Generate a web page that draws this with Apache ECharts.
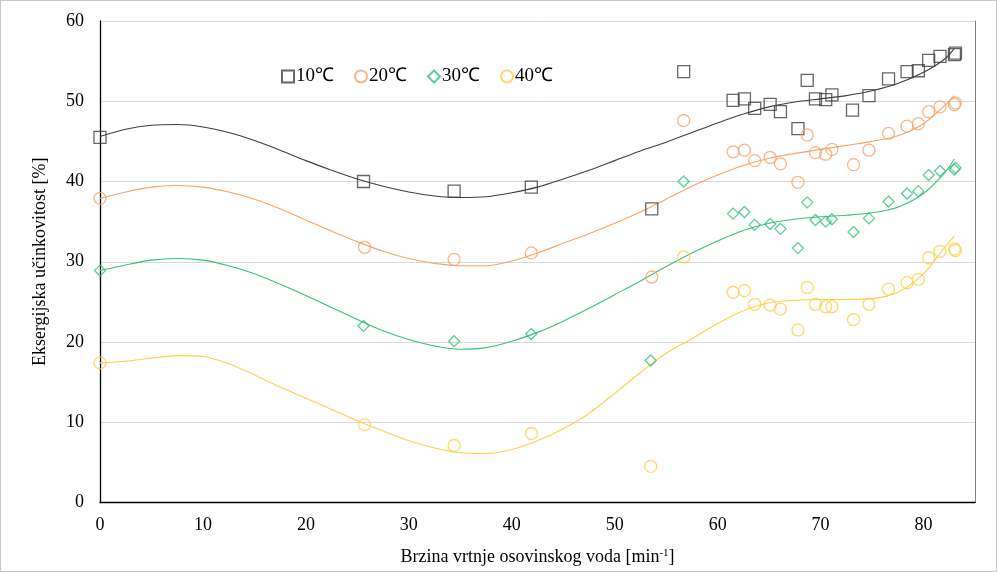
<!DOCTYPE html>
<html><head><meta charset="utf-8">
<script src="https://cdn.jsdelivr.net/npm/echarts@6/dist/echarts.min.js"></script>
<style>html,body{margin:0;padding:0;background:#fff}#c{width:997px;height:572px;box-sizing:border-box;border:1px solid #C8C8C8}</style>
</head><body><div id="c"></div>
<script>
// measured points [speed, efficiency]
const pts10 = [[0,45.5],[25.6,40.0],[34.4,38.8],[41.9,39.3],[53.6,36.6],[56.7,53.7],[61.5,50.1],[62.6,50.3],[63.6,49.1],[65.1,49.6],[66.1,48.7],[67.8,46.6],[68.7,52.6],[69.5,50.3],[70.5,50.2],[71.1,50.8],[73.1,48.9],[74.7,50.7],[76.6,52.8],[78.4,53.7],[79.5,53.8],[80.5,55.1],[81.6,55.6],[83.0,55.8],[83.1,56.0]];
const pts20 = [[0,37.9],[25.7,31.8],[34.4,30.3],[41.9,31.1],[53.6,28.1],[56.7,47.6],[61.5,43.7],[62.6,43.9],[63.6,42.6],[65.1,43.0],[66.1,42.2],[67.8,39.9],[68.7,45.8],[69.5,43.6],[70.5,43.4],[71.1,44.0],[73.2,42.1],[74.7,43.9],[76.6,46.0],[78.4,46.9],[79.5,47.2],[80.5,48.7],[81.6,49.3],[83.0,49.6],[83.1,49.8]];
const pts30 = [[0,28.9],[25.6,22.0],[34.4,20.1],[41.9,21.0],[53.5,17.7],[56.7,40.0],[61.5,36.0],[62.6,36.2],[63.6,34.6],[65.1,34.7],[66.1,34.1],[67.8,31.7],[68.7,37.4],[69.5,35.2],[70.5,35.0],[71.1,35.3],[73.2,33.7],[74.7,35.4],[76.6,37.5],[78.4,38.5],[79.5,38.8],[80.5,40.8],[81.6,41.3],[83.0,41.5],[83.1,41.7]];
const pts40 = [[0,17.4],[25.7,9.7],[34.4,7.1],[41.9,8.6],[53.5,4.5],[56.7,30.6],[61.5,26.2],[62.6,26.4],[63.6,24.7],[65.1,24.6],[66.1,24.1],[67.8,21.5],[68.7,26.8],[69.5,24.7],[70.5,24.4],[71.1,24.4],[73.2,22.8],[74.7,24.7],[76.6,26.6],[78.4,27.4],[79.5,27.8],[80.5,30.5],[81.6,31.3],[83.0,31.6],[83.1,31.4]];
// trend curves
const trendX   = [0,2.5,5,7.5,10,12.5,15,17.5,20,22.5,25,27.5,30,32.5,35,37.5,40,42.5,45,47.5,50,52.5,55,57.5,60,62.5,65,67.5,70,72.5,75,77.5,80,82,83];
const trend10Y = [45.6,46.5,47.0,47.1,46.8,46.1,45.1,43.9,42.6,41.4,40.3,39.4,38.7,38.2,38.0,38.1,38.6,39.3,40.3,41.4,42.6,43.8,44.9,46.1,47.3,48.4,49.3,49.9,50.3,50.7,51.3,52.2,53.6,55.2,56.6];
const trend20Y = [37.9,38.7,39.3,39.5,39.3,38.7,37.8,36.6,35.2,33.8,32.5,31.3,30.4,29.8,29.5,29.5,30.1,31.1,32.3,33.5,34.8,36.2,37.8,39.4,40.8,42.0,42.9,43.5,44.0,44.5,45.0,45.7,47.2,49.4,50.7];
const trend30Y = [28.9,29.6,30.2,30.4,30.2,29.5,28.5,27.2,25.8,24.3,22.8,21.4,20.3,19.5,19.1,19.3,20.1,21.2,22.6,24.2,25.9,27.6,29.4,31.1,32.6,33.9,34.8,35.3,35.6,35.8,36.1,36.8,38.5,41.0,42.8];
const trend40Y = [17.4,17.6,18.0,18.3,18.2,17.3,15.9,14.4,13.0,11.6,10.2,8.9,7.7,6.8,6.2,6.1,6.6,7.7,9.2,11.1,13.6,16.2,18.6,20.4,22.3,23.9,24.9,25.2,25.3,25.3,25.4,26.2,28.5,31.7,33.2];
const names = ['10℃','20℃','30℃','40℃'];
const colors = ['#404040','#F5A46C','#35C27B','#FFCF4A'];
const symbols = ['rect','circle','diamond','circle'];
const sizes = [[12,12],[12,12],[11,11],[12,12]];
const xTicks = {min:0, max:85, interval:10};
const yTicks = {min:0, max:60, interval:10};

const font = 'Liberation Serif, Times New Roman, serif';
const pts = [pts10, pts20, pts30, pts40];
const trendYs = [trend10Y, trend20Y, trend30Y, trend40Y];
const series = [];
trendYs.forEach((ys,i)=>series.push({type:'line', name:'trend'+i, data:trendX.map((x,k)=>[x,ys[k]]), smooth:0.3, showSymbol:false, symbol:'none', silent:true, z:1,
  lineStyle:{color:colors[i], width:1.1}}));
pts.forEach((p,i)=>series.push({type:'scatter', name:names[i], data:p, symbol:symbols[i], symbolSize:sizes[i], z:3,
  itemStyle:{color:'rgba(255,255,255,0)', borderColor:colors[i], borderWidth:1.3}}));

const chart = echarts.init(document.getElementById('c'), null, {renderer:'canvas'});
chart.setOption({
  animation:false,
  backgroundColor:'#fff',
  grid:{left:99, right:21, top:20, bottom:68, containLabel:false},
  legend:{data:names, left:275, top:61, itemWidth:12, itemHeight:12, itemGap:20,
    textStyle:{fontFamily:font, fontSize:19, color:'#000', padding:[0,0,0,-3]}},
  xAxis:{type:'value', min:xTicks.min, max:xTicks.max, interval:xTicks.interval,
    name:'Brzina vrtnje osovinskog voda [min{s|-1}]', nameLocation:'middle', nameGap:45,
    nameTextStyle:{fontFamily:font, fontSize:18, color:'#000', rich:{s:{fontFamily:font, fontSize:11, color:'#000', verticalAlign:'top', padding:[0,0,8,0]}}},
    axisLine:{lineStyle:{color:'#000', width:1.3}}, axisTick:{show:false}, splitLine:{show:false},
    axisLabel:{fontFamily:font, fontSize:18, color:'#000', margin:14, showMaxLabel:false}},
  yAxis:[{type:'value', min:yTicks.min, max:yTicks.max, interval:yTicks.interval,
    name:'Eksergijska učinkovitost [%]', nameLocation:'middle', nameGap:51, nameRotate:90,
    nameTextStyle:{fontFamily:font, fontSize:18, color:'#000'},
    axisLine:{show:true, lineStyle:{color:'#000', width:1.3}}, axisTick:{show:false},
    splitLine:{lineStyle:{color:'#D9D9D9', width:1}},
    axisLabel:{fontFamily:font, fontSize:18, color:'#000', margin:16}},
   {type:'value', min:yTicks.min, max:yTicks.max, interval:yTicks.interval, position:'right',
    axisLine:{show:true, lineStyle:{color:'#7F7F7F', width:1}}, axisTick:{show:false},
    axisLabel:{show:false}, splitLine:{show:false}}],
  series:series
});
</script></body></html>
